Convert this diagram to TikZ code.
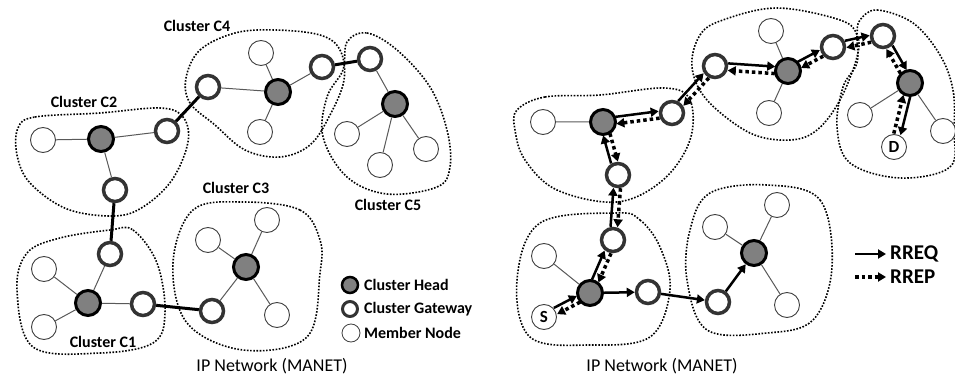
\documentclass[tikz,border=0pt]{standalone}
\usepackage{fontspec}
\setmainfont{Carlito}
\usetikzlibrary{arrows.meta,calc}
\newcommand\rtoff{3.5pt}
% forward RREQ and backward RREP, each shifted to the left of its direction
\newcommand\routepair[2]{%
  \draw[req] ($(#1)!\rtoff!90:(#2)$) -- ($(#2)!\rtoff!-90:(#1)$);
  \draw[rep] ($(#2)!\rtoff!90:(#1)$) -- ($(#1)!\rtoff!-90:(#2)$);}
\begin{document}
\begin{tikzpicture}[x=1pt,y=-1pt,
  member/.style={circle,draw=black!75,line width=0.9pt,fill=white,minimum size=25pt,inner sep=0pt},
  gateway/.style={circle,draw=black!80,line width=3.5pt,fill=white,minimum size=23pt,inner sep=0pt},
  head/.style={circle,draw=black,line width=3pt,fill=black!50,minimum size=25pt,inner sep=0pt},
  link/.style={draw=black!65,line width=1pt},
  bridge/.style={draw=black,line width=3pt},
  cluster/.style={draw=black,line width=1.6pt,dash pattern=on 1.6pt off 1.6pt},
  clabel/.style={font=\fontsize{16}{18}\selectfont\bfseries},
  legtext/.style={font=\fontsize{16}{18}\selectfont\bfseries,anchor=west,inner sep=0pt},
  routetext/.style={font=\fontsize{21}{22}\selectfont\bfseries,anchor=west,inner sep=0pt},
  title/.style={font=\fontsize{18}{20}\selectfont},
  req/.style={draw=black,line width=2.5pt,-{Triangle[length=8pt,width=9pt]},shorten >=13pt,shorten <=13pt},
  rep/.style={draw=black,line width=3.5pt,dash pattern=on 3.5pt off 3pt,-{Triangle[length=8pt,width=9pt]},shorten >=13pt,shorten <=13pt},
  req1/.style={draw=black,line width=2.5pt,-{Triangle[length=8pt,width=9pt]}},
  rep1/.style={draw=black,line width=3.5pt,dash pattern=on 3.5pt off 3pt,-{Triangle[length=8pt,width=9pt]}},
  sdlabel/.style={font=\fontsize{17}{18}\selectfont\bfseries},
]
\useasboundingbox (0,0) rectangle (955,382);

% ---------------- left network: clusters ----------------
\draw[cluster] plot[smooth cycle,tension=0.6] coordinates {(18,128) (35,117) (100,113) (160,108) (183,117) (188,142) (172,180) (143,207) (114,216) (67,209) (30,183) (17,155)};
\draw[cluster] plot[smooth cycle,tension=0.6] coordinates {(186,78) (200,50) (235,33) (275,30) (320,35) (340,50) (344,80) (330,115) (310,145) (280,157) (245,150) (215,125) (190,103)};
\draw[cluster] plot[smooth cycle,tension=0.6] coordinates {(347,42) (367,33) (397,50) (430,87) (447,130) (450,167) (437,187) (387,194) (347,177) (323,137) (327,97) (343,70)};
\draw[cluster] plot[smooth cycle,tension=0.6] coordinates {(243,202) (300,210) (320,240) (320,273) (307,337) (243,350) (187,323) (173,263) (193,210)};
\draw[cluster] plot[smooth cycle,tension=0.6] coordinates {(110,230) (133,230) (157,263) (165,313) (153,343) (100,353) (33,347) (17,290) (27,253) (60,238)};

% cluster C2
\node[member]  (a2m)  at (43,140) {};
\node[head]    (a2h)  at (101,139) {};
\node[gateway] (a2gr) at (167,131) {};
\node[gateway] (a2gb) at (115,190) {};
% cluster C4
\node[gateway] (a4gl) at (208,87) {};
\node[member]  (a4mt) at (261,53) {};
\node[head]    (a4h)  at (278,92) {};
\node[member]  (a4mb) at (260,132) {};
\node[gateway] (a4gr) at (322,67) {};
% cluster C5
\node[gateway] (a5g)  at (370,59) {};
\node[head]    (a5h)  at (395,104) {};
\node[member]  (a5ml) at (347,134) {};
\node[member]  (a5mb) at (380,165) {};
\node[member]  (a5mr) at (426,149) {};
% cluster C1
\node[gateway] (a1gt) at (110,254) {};
\node[member]  (a1mt) at (44,269) {};
\node[head]    (a1h)  at (88,303) {};
\node[member]  (a1mb) at (44,327) {};
\node[gateway] (a1gr) at (143,304) {};
% cluster C3
\node[member]  (a3ml) at (208,240) {};
\node[member]  (a3mt) at (267,220) {};
\node[head]    (a3h)  at (246,267) {};
\node[gateway] (a3g)  at (212,311) {};
\node[member]  (a3mr) at (277,315) {};

\path[link] (a2m) -- (a2h) (a2h) -- (a2gr) (a2h) -- (a2gb)
  (a4gl) -- (a4h) (a4mt) -- (a4h) (a4mb) -- (a4h) (a4h) -- (a4gr)
  (a5g) -- (a5h) (a5ml) -- (a5h) (a5mb) -- (a5h) (a5mr) -- (a5h)
  (a1gt) -- (a1h) (a1mt) -- (a1h) (a1mb) -- (a1h) (a1h) -- (a1gr)
  (a3ml) -- (a3h) (a3mt) -- (a3h) (a3mr) -- (a3h) (a3g) -- (a3h);
\path[bridge] (a2gr) -- (a4gl) (a4gr) -- (a5g) (a2gb) -- (a1gt) (a1gr) -- (a3g);

\node[clabel] (l4) at (197,26) {Cluster C4};
\node[clabel] (l2) at (84,102) {Cluster C2};
\node[clabel] (l3) at (236,188) {Cluster C3};
\node[clabel] (l5) at (388,205) {Cluster C5};
\node[clabel] (l1) at (103,342) {Cluster C1};

% legend
\node[head,minimum size=16pt,line width=2.5pt]    (kh) at (350,285) {};
\node[gateway,minimum size=15pt,line width=3pt]   (kg) at (350,309) {};
\node[member,minimum size=18pt,line width=0.8pt]  (km) at (351,333) {};
\node[legtext] (kht) at (364,285) {Cluster Head};
\node[legtext] (kgt) at (364,309) {Cluster Gateway};
\node[legtext] (kmt) at (364,333) {Member Node};

\node[title] (t1) at (272,366) {IP Network (MANET)};

% ---------------- right network: clusters ----------------
\draw[cluster] plot[smooth cycle,tension=0.6] coordinates {(517,110) (545,97) (600,95) (665,88) (690,100) (690,140) (663,180) (617,202) (557,190) (525,160) (515,130)};
\draw[cluster] plot[smooth cycle,tension=0.6] coordinates {(692,67) (700,35) (723,20) (777,8) (840,20) (857,35) (857,57) (840,100) (817,130) (790,140) (750,133) (707,100)};
\draw[cluster] plot[smooth cycle,tension=0.6] coordinates {(860,20) (877,10) (913,23) (940,55) (953,90) (954,130) (950,167) (900,178) (850,163) (837,127) (843,87) (857,63) (857,35)};
\draw[cluster] plot[smooth cycle,tension=0.6] coordinates {(617,213) (640,220) (660,247) (670,290) (650,337) (590,345) (530,337) (517,280) (540,223)};
\draw[cluster] plot[smooth cycle,tension=0.6] coordinates {(767,185) (820,200) (832,267) (813,320) (767,333) (707,330) (687,280) (690,230) (710,193)};

% cluster C2
\node[member]  (b2m)  at (543,122) {};
\node[head]    (b2h)  at (603,122) {};
\node[gateway] (b2gr) at (672,113) {};
\node[gateway] (b2gb) at (618,175) {};
% cluster C4
\node[gateway] (b4gl) at (715,66) {};
\node[member]  (b4mt) at (771,31) {};
\node[head]    (b4h)  at (788,71) {};
\node[member]  (b4mb) at (769,113) {};
\node[gateway] (b4gr) at (833,47) {};
% cluster C5
\node[gateway] (b5g)  at (883,36) {};
\node[head]    (b5h)  at (910,83) {};
\node[member]  (b5ml) at (860,115) {};
\node[member]  (dst)  at (894,147) {};
\node[member]  (b5mr) at (943,131) {};
% cluster C1
\node[gateway] (b1gt) at (613,240) {};
\node[member]  (b1ml) at (544,256) {};
\node[head]    (b1h)  at (590,293) {};
\node[member]  (src)  at (544,317) {};
\node[gateway] (b1gr) at (648,292) {};
% cluster C3
\node[member]  (b3ml) at (715,227) {};
\node[member]  (b3mt) at (777,205) {};
\node[head]    (b3h)  at (754,253) {};
\node[gateway] (b3g)  at (718,302) {};
\node[member]  (b3mr) at (787,305) {};

\node[sdlabel] (srct) at (src) {S};
\node[sdlabel] (dstt) at (dst) {D};

\path[link] (b2m) -- (b2h) (b4mt) -- (b4h) (b4mb) -- (b4h)
  (b5ml) -- (b5h) (b5mr) -- (b5h) (b1ml) -- (b1h)
  (b3ml) -- (b3h) (b3mt) -- (b3h) (b3mr) -- (b3h);

% route request / reply along the path S -> D
\routepair{src}{b1h}
\routepair{b1h}{b1gt}
\routepair{b1gt}{b2gb}
\routepair{b2gb}{b2h}
\routepair{b2h}{b2gr}
\routepair{b2gr}{b4gl}
\routepair{b4gl}{b4h}
\routepair{b4h}{b4gr}
\routepair{b4gr}{b5g}
\routepair{b5g}{b5h}
\routepair{b5h}{dst}
% request flooding towards C3
\draw[req1] (b1h) -- (b1gr);
\draw[req1] (b1gr) -- (b3g);
\draw[req1] (b3g) -- (b3h);

% legend
\coordinate (q0) at (855,254);
\coordinate (q1) at (886,254);
\coordinate (p0) at (855,277);
\coordinate (p1) at (886,277);
\draw[req1] (q0) -- (q1);
\draw[rep1] (p0) -- (p1);
\node[routetext] (lq) at (890,254) {RREQ};
\node[routetext] (lp) at (890,277) {RREP};

\node[title] (t2) at (662,366) {IP Network (MANET)};
\end{tikzpicture}
\end{document}
